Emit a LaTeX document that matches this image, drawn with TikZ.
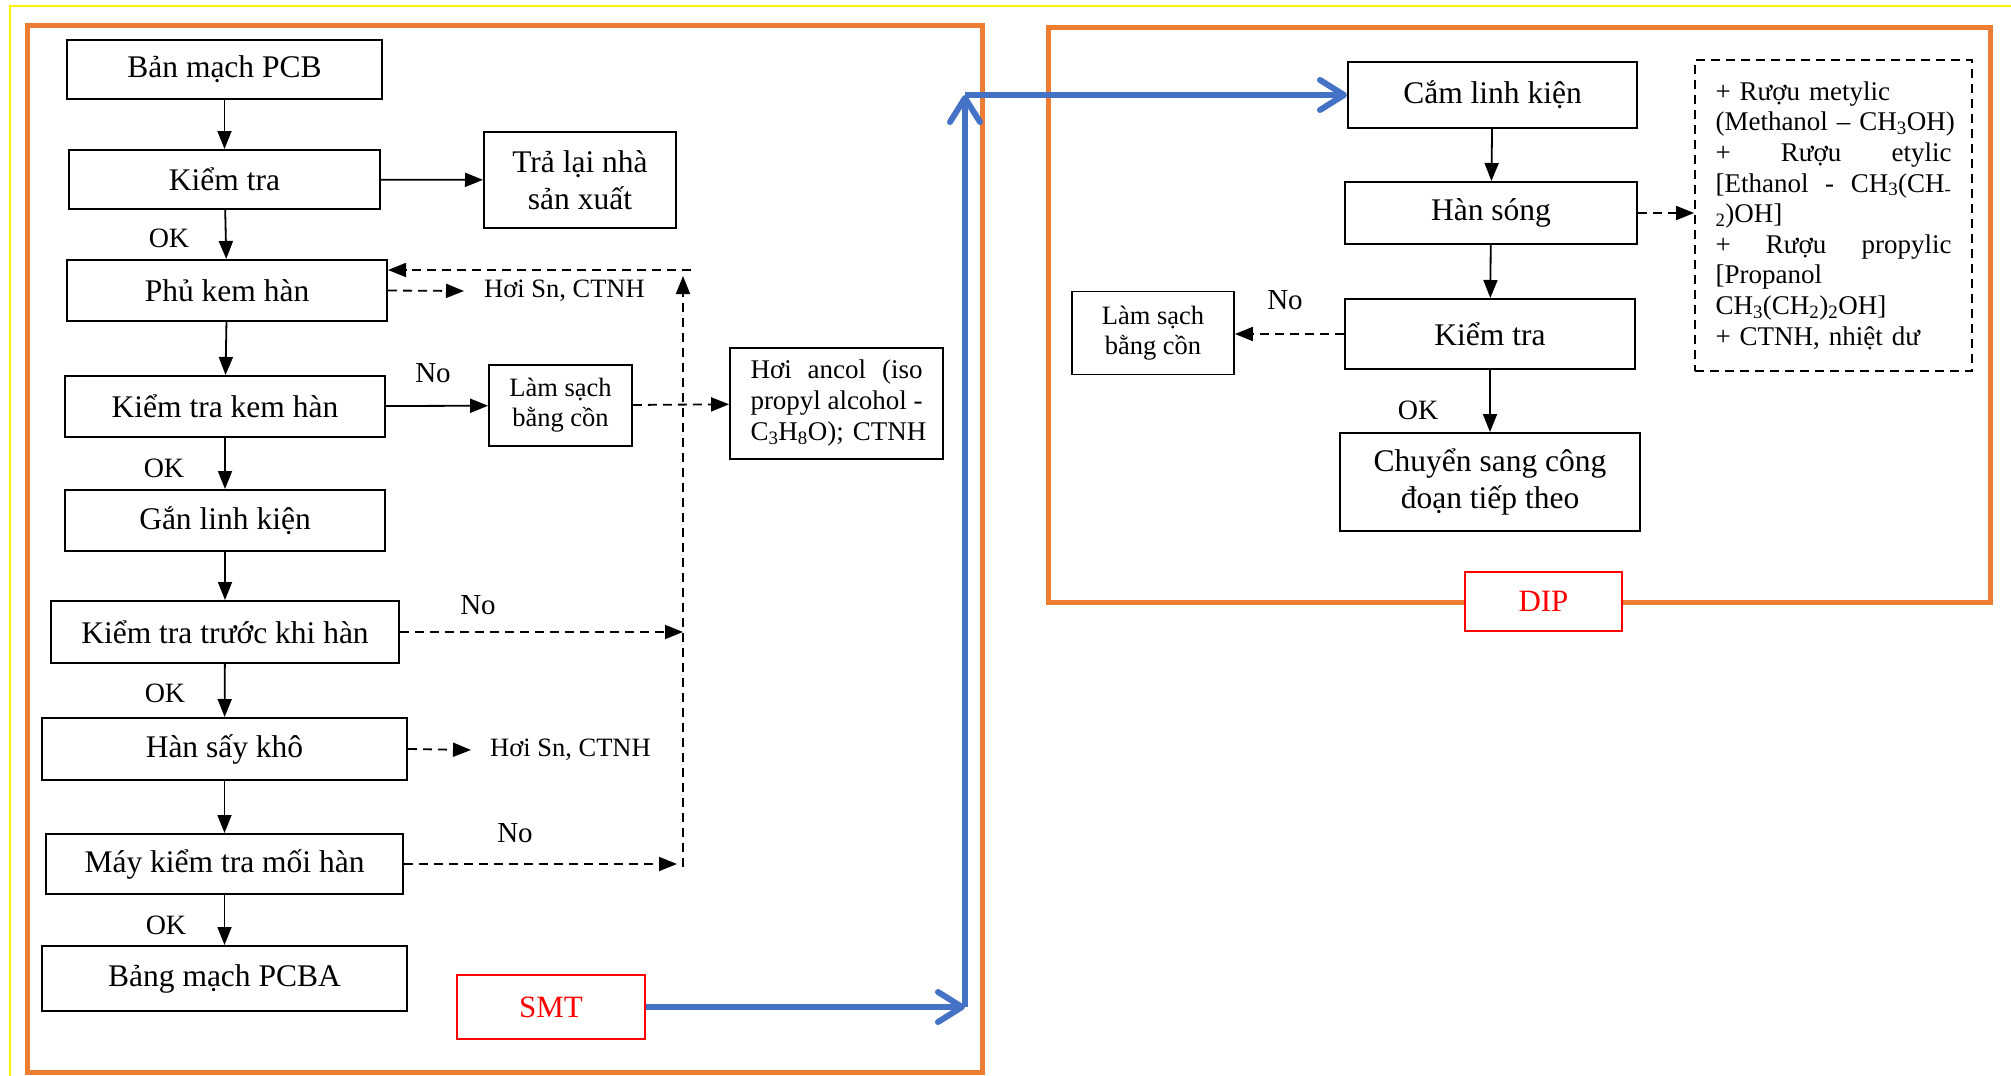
\documentclass[tikz,border=0pt]{standalone}
\usepackage{fontspec}
\setmainfont{Liberation Serif}
\usetikzlibrary{arrows.meta}
\definecolor{frameorange}{HTML}{ED7D31}
\definecolor{arrowblue}{HTML}{4472C4}
\newcommand{\fullline}[2]{\leavevmode\hbox to #1{#2}}
\newcommand{\lline}[2]{\leavevmode\hbox to #1{#2\hss}}
\begin{document}
\begin{tikzpicture}[x=1pt,y=-1pt,
  box/.style={draw, line width=2pt, inner sep=0pt, align=center, font=\fontsize{31.5}{37}\selectfont},
  sbox/.style={draw, line width=1.8pt, inner sep=0pt, align=center, font=\fontsize{26.5}{30}\selectfont},
  arr/.style={line width=1.8pt, -{Triangle[length=18pt,width=14pt]}},
  darr/.style={arr, dash pattern=on 9pt off 6pt},
  lbl/.style={inner sep=0pt, font=\fontsize{29}{30}\selectfont},
  oklbl/.style={inner sep=0pt, font=\fontsize{28}{30}\selectfont},
  stxt/.style={inner ysep=0pt, font=\fontsize{26.5}{30}\selectfont},
  frame/.style={draw=frameorange, line width=5pt},
  tagbox/.style={draw=red, line width=2pt, fill=white, text=red, inner sep=0pt, font=\fontsize{31}{35}\selectfont},
  bluearr/.style={draw=arrowblue, line width=6pt, -{Straight Barb[length=24pt,width=30pt,round]}}
]
\useasboundingbox (0,0) rectangle (2011,1076);
% yellow outer lines
\draw[yellow, line width=2pt] (10,1076) -- (10,6) -- (2011,6);
% orange frames
\draw[frame] (27,25) rectangle (982,1072);
\draw[frame] (1048,27) rectangle (1990,602);

% ---- SMT column ----
\node[box, minimum width=315pt, minimum height=59pt] (pcb) at (224.5,69.5) {Bản mạch PCB};
\node[box, minimum width=311pt, minimum height=59pt] (kt1) at (224.5,179.5) {Kiểm tra};
\node[box, minimum width=192pt, minimum height=96pt] (tralai) at (580,180) {Trả lại nhà\\sản xuất};
\node[box, minimum width=320pt, minimum height=61pt] (phu) at (227,290.5) {Phủ kem hàn};
\node[box, minimum width=320pt, minimum height=61pt] (ktkem) at (225,406.5) {Kiểm tra kem hàn};
\node[sbox, minimum width=143pt, minimum height=81pt] (ls1) at (560.5,405.5) {Làm sạch\\bằng cồn};
\node[sbox, minimum width=213pt, minimum height=111pt, text width=172pt, align=left, font=\fontsize{27}{31}\selectfont] (ancol) at (836.5,403.5)
  {\fullline{172pt}{Hơi\hfill ancol\hfill (iso}\\\fullline{172pt}{propyl\hfill alcohol\hfill -}\\\lline{172pt}{C\textsubscript{3}H\textsubscript{8}O); CTNH}};
\node[box, minimum width=320pt, minimum height=61pt] (gan) at (225,520.5) {Gắn linh kiện};
\node[box, minimum width=348pt, minimum height=62pt] (kttruoc) at (225,632) {Kiểm tra trước khi hàn};
\node[box, minimum width=365pt, minimum height=62pt] (hansay) at (224.5,749) {Hàn sấy khô};
\node[box, minimum width=357pt, minimum height=60pt] (may) at (224.5,864) {Máy kiểm tra mối hàn};
\node[box, minimum width=365pt, minimum height=65pt] (pcba) at (224.5,978.5) {Bảng mạch PCBA};

\node[stxt, anchor=west, inner xsep=20pt] (hs1) at (464,291) {Hơi Sn, CTNH};
\node[stxt, anchor=west, inner xsep=19pt] (hs2) at (471,750) {Hơi Sn, CTNH};

\node[oklbl] at (169,238) {OK};
\node[oklbl] at (164,468) {OK};
\node[oklbl] at (165,693) {OK};
\node[oklbl] at (166,925) {OK};
\node[lbl] at (433,373) {No};
\node[lbl] at (478,605) {No};
\node[lbl] at (515,833) {No};

\draw[arr] (pcb) -- (kt1);
\draw[arr] (kt1) -- (phu);
\draw[arr] (phu) -- (ktkem);
\draw[arr] (ktkem) -- (gan);
\draw[arr] (gan) -- (kttruoc);
\draw[arr] (kttruoc) -- (hansay);
\draw[arr] (hansay) -- (may);
\draw[arr] (may) -- (pcba);
\draw[arr] (kt1) -- (tralai);
\draw[arr] (ktkem) -- (ls1);
\draw[darr] (ls1) -- (ancol);
\draw[darr] (phu.east) -- (hs1.west);
\draw[darr] (hansay.east) -- (hs2.west);

% feedback dashed loop
\coordinate (fbbot) at (683,867);
\coordinate (fbtop) at (683,276);
\coordinate (fbh) at (691,270);
\coordinate (j1) at (683,632);
\coordinate (j2) at (677,864);
\draw[darr] (fbbot) -- (fbtop);
\draw[darr] (fbh) -- (fbh -| phu.east);
\draw[darr] (kttruoc.east) -- (j1);
\draw[darr] (may.east) -- (j2);

% tag SMT
\node[tagbox, minimum width=188pt, minimum height=64pt] (smt) at (551,1007) {SMT};

% ---- DIP column ----
\node[box, minimum width=289pt, minimum height=66pt] (cam) at (1492.5,95) {Cắm linh kiện};
\node[box, minimum width=292pt, minimum height=62pt] (song) at (1491,213) {Hàn sóng};
\node[box, minimum width=290pt, minimum height=70pt] (kt2) at (1490,334) {Kiểm tra};
\node[box, minimum width=300pt, minimum height=98pt] (chuyen) at (1490,482) {Chuyển sang công\\đoạn tiếp theo};
\node[sbox, minimum width=162pt, minimum height=83pt] (ls2) at (1153,333) {Làm sạch\\bằng cồn};
\node[draw, line width=1.8pt, dash pattern=on 9pt off 6pt, inner sep=0pt, minimum width=277pt, minimum height=311pt,
  text width=236pt, align=left, font=\fontsize{27}{30.6}\selectfont] (dbox) at (1833.5,215.5)
  {\lline{236pt}{+ Rượu metylic}\\
   \lline{236pt}{(Methanol – CH\textsubscript{3}OH)}\\
   \fullline{236pt}{+\hfill Rượu\hfill etylic}\\
   \fullline{236pt}{{[}Ethanol\hfill -\hfill CH\textsubscript{3}(CH\textsubscript{-}}\\
   \lline{236pt}{\textsubscript{2})OH{]}}\\
   \fullline{236pt}{+\hfill Rượu\hfill propylic}\\
   \lline{236pt}{{[}Propanol}\\
   \lline{236pt}{CH\textsubscript{3}(CH\textsubscript{2})\textsubscript{2}OH{]}}\\
   \lline{236pt}{+ CTNH, nhiệt dư}};

\node[lbl] at (1285,300) {No};
\node[oklbl] at (1418,410) {OK};

\draw[arr] (cam) -- (song);
\draw[arr] (song) -- (kt2);
\draw[arr] (kt2) -- (chuyen);
\draw[darr] (song.east) -- (song.east -| dbox.west);
\draw[darr] (kt2.west) -- (kt2.west -| ls2.east);

\node[tagbox, minimum width=157pt, minimum height=59pt] (dip) at (1543.5,601) {DIP};

% ---- blue connector ----
\coordinate (c1) at (965,1007);
\coordinate (c2) at (965,95);
\draw[bluearr] (smt.east) -- (c1);
\draw[bluearr] (c1) -- (c2);
\draw[bluearr] (c2) -- (cam.west);
\end{tikzpicture}
\end{document}
